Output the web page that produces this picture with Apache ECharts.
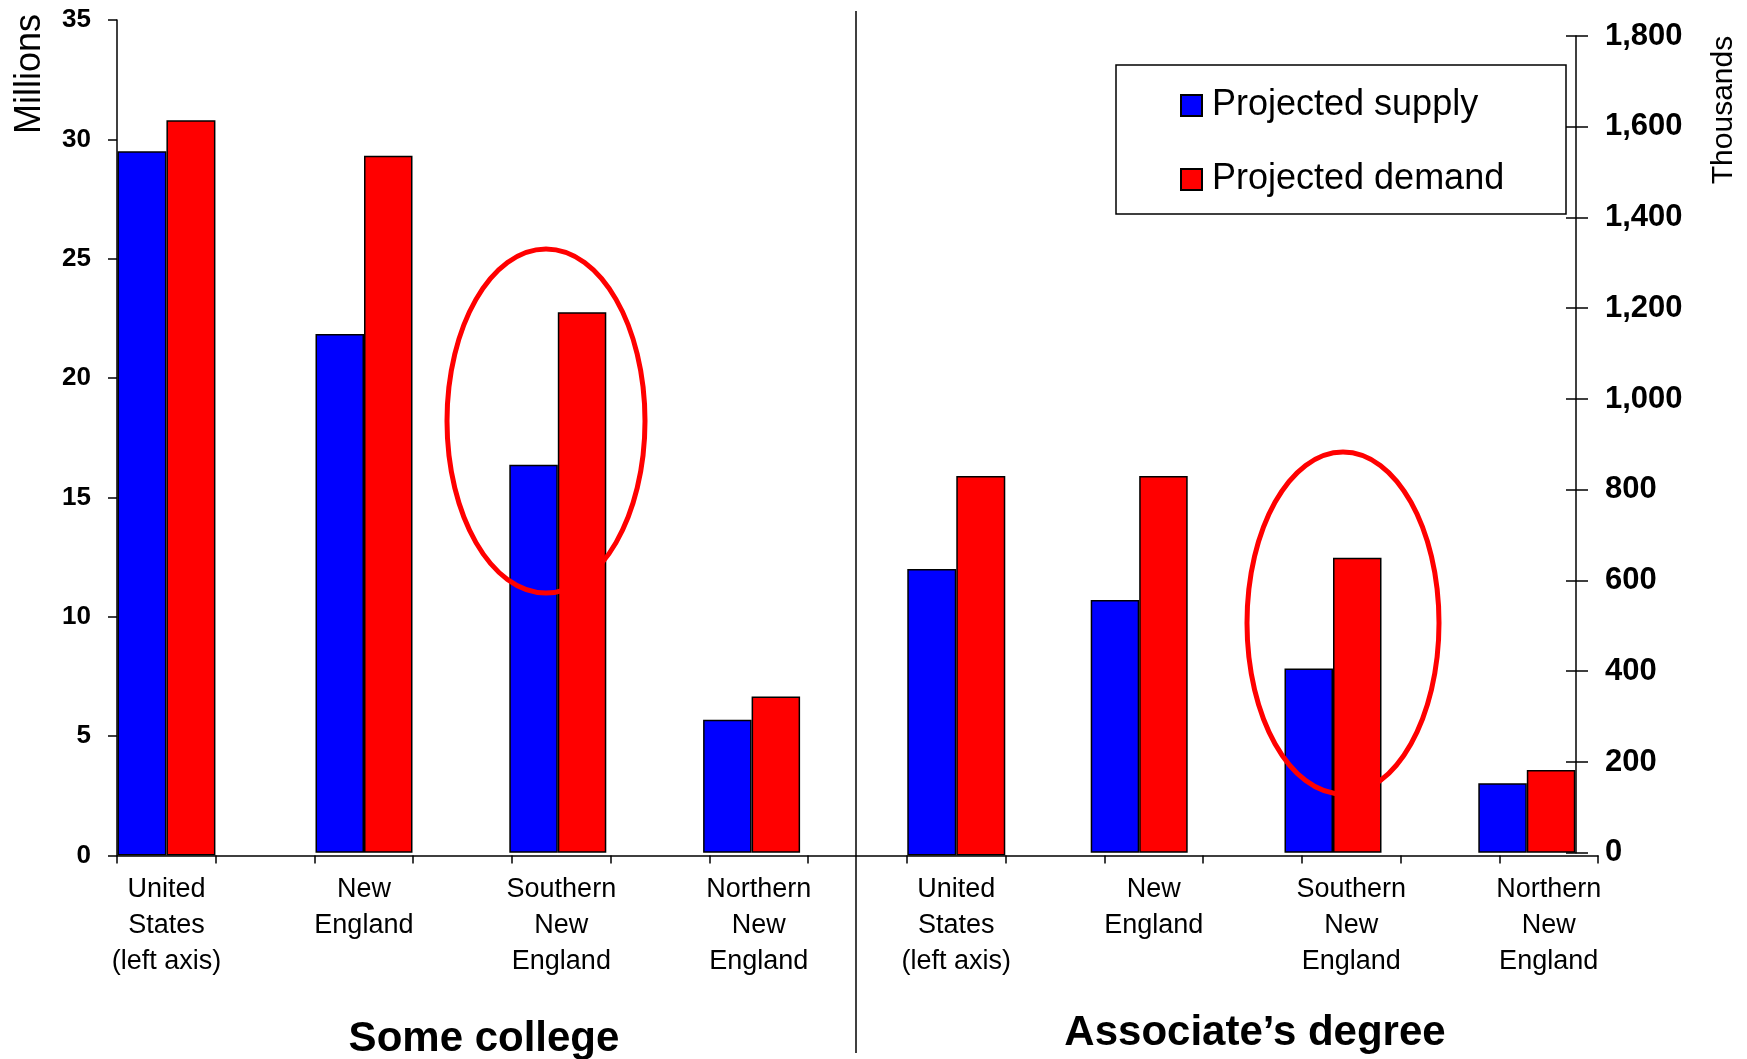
<!DOCTYPE html>
<html><head><meta charset="utf-8">
<script src="https://cdn.jsdelivr.net/npm/echarts@6/dist/echarts.min.js"></script>
<style>html,body{margin:0;padding:0;background:#fff}#c{width:1747px;height:1059px}</style>
</head><body><div id="c"></div>
<script>
// ---- data ----
const categories = ['United\nStates\n(left axis)', 'New\nEngland', 'Southern\nNew\nEngland', 'Northern\nNew\nEngland',
                    'United\nStates\n(left axis)', 'New\nEngland', 'Southern\nNew\nEngland', 'Northern\nNew\nEngland'];
const groupTitles = ['Some college', 'Associate\u2019s degree'];
const seriesNames = ['Projected supply', 'Projected demand'];
// left axis (millions) - United States only
const supplyMillions = [29.5, null, null, null, 12.0, null, null, null];
const demandMillions = [30.8, null, null, null, 15.9, null, null, null];
// right axis (thousands) - regions
const supplyThousands = [null, 1143, 855, 293, null, 557, 406, 153];
const demandThousands = [null, 1536, 1191, 344, null, 830, 650, 182];
// axis ticks
const leftAxisTicks = [0, 5, 10, 15, 20, 25, 30, 35];
const rightAxisTicks = [0, 200, 400, 600, 800, 1000, 1200, 1400, 1600, 1800];
const leftAxisName = 'Millions';
const rightAxisName = 'Thousands';

// ---- chart ----
const FONT = '"Liberation Sans", Arial, sans-serif';
const BLUE = '#0000FF', RED = '#FF0000';
const chart = echarts.init(document.getElementById('c'));
const toBar = a => a.map(v => v == null ? '-' : v);
const lMin = leftAxisTicks[0], lMax = leftAxisTicks[leftAxisTicks.length - 1], lInt = leftAxisTicks[1] - leftAxisTicks[0];
const rMin = rightAxisTicks[0], rMax = rightAxisTicks[rightAxisTicks.length - 1], rInt = rightAxisTicks[1] - rightAxisTicks[0];

const barStyle = c => ({ color: c, borderColor: '#000', borderWidth: 1.5 });

const option = {
  animation: false,
  backgroundColor: '#fff',
  grid: [
    { left: 67.7, width: 1579.7, top: 20, height: 835.6 },   // millions bars + category labels
    { left: 73.3, width: 1550.4, top: 36, height: 816.7 },   // thousands bars + right axis
    { left: 117, width: 1481, top: 20, height: 835.6 }       // visible left axis + x axis line
  ],
  xAxis: [
    { gridIndex: 0, type: 'category', data: categories,
      axisLine: { show: false }, axisTick: { show: false }, splitLine: { show: false },
      axisLabel: { interval: 0, margin: 15.5, color: '#000', fontFamily: FONT, fontSize: 27, lineHeight: 36 } },
    { gridIndex: 1, type: 'category', data: categories, show: false },
    { gridIndex: 2, type: 'value', min: 0, max: 15, interval: 1,
      splitLine: { show: false }, axisLabel: { show: false },
      axisLine: { lineStyle: { color: '#000', width: 1.5 } },
      axisTick: { show: true, length: 8, lineStyle: { color: '#000', width: 1.5 } } }
  ],
  yAxis: [
    { gridIndex: 0, type: 'value', min: lMin, max: lMax, show: false },
    { gridIndex: 1, type: 'value', min: rMin, max: rMax, interval: rInt, position: 'right', offset: -47.7,
      splitLine: { show: false },
      axisLine: { show: true, lineStyle: { color: '#000', width: 1.5 } },
      axisTick: { show: true, length: 12, lineStyle: { color: '#000', width: 1.5 } },
      axisLabel: { margin: 29, color: '#000', fontFamily: FONT, fontWeight: 'bold', fontSize: 31,
        formatter: v => v.toLocaleString('en-US') } },
    { gridIndex: 1, type: 'value', min: rMin, max: rMax, interval: rInt, position: 'right', offset: -47.7,
      splitLine: { show: false }, axisLine: { show: false }, axisLabel: { show: false },
      axisTick: { show: true, inside: true, length: 10, lineStyle: { color: '#000', width: 1.5 } } },
    { gridIndex: 2, type: 'value', min: lMin, max: lMax, interval: lInt, position: 'left',
      splitLine: { show: false },
      axisLine: { show: true, lineStyle: { color: '#000', width: 1.5 } },
      axisTick: { show: true, length: 9, lineStyle: { color: '#000', width: 1.5 } },
      axisLabel: { margin: 26, color: '#000', fontFamily: FONT, fontWeight: 'bold', fontSize: 26 } }
  ],
  legend: {
    data: seriesNames, orient: 'vertical', left: 1180, top: 87.5, padding: 0,
    itemWidth: 21, itemHeight: 21, itemGap: 38, icon: 'rect', selectedMode: false,
    textStyle: { fontFamily: FONT, fontSize: 36, lineHeight: 36, color: '#000', padding: [0, 0, 0, 5] }
  },
  series: [
    { name: seriesNames[0], type: 'bar', xAxisIndex: 0, yAxisIndex: 0, data: toBar(supplyMillions),
      barWidth: 49, barGap: '0%', itemStyle: barStyle(BLUE) },
    { name: seriesNames[1], type: 'bar', xAxisIndex: 0, yAxisIndex: 0, data: toBar(demandMillions),
      barWidth: 49, barGap: '0%', itemStyle: barStyle(RED) },
    { name: seriesNames[0], type: 'bar', xAxisIndex: 1, yAxisIndex: 1, data: toBar(supplyThousands),
      barWidth: 48.5, barGap: '0%', itemStyle: barStyle(BLUE) },
    { name: seriesNames[1], type: 'bar', xAxisIndex: 1, yAxisIndex: 1, data: toBar(demandThousands),
      barWidth: 48.5, barGap: '0%', itemStyle: barStyle(RED) }
  ],
  graphic: [
    { type: 'rect', z: 5, shape: { x: 1116, y: 65, width: 450, height: 149 },
      style: { fill: null, stroke: '#000', lineWidth: 1.5 } },
    { type: 'line', z: 5, shape: { x1: 856, y1: 11, x2: 856, y2: 1053 },
      style: { stroke: '#000', lineWidth: 1.5 } },
    { type: 'ellipse', z: 100, shape: { cx: 546, cy: 421, rx: 99, ry: 172 },
      style: { fill: null, stroke: RED, lineWidth: 5 } },
    { type: 'ellipse', z: 100, shape: { cx: 1343, cy: 623, rx: 96, ry: 171 },
      style: { fill: null, stroke: RED, lineWidth: 5 } },
    { type: 'text', z: 5, x: 30, y: 74, rotation: Math.PI / 2,
      style: { text: leftAxisName, fontFamily: FONT, fontSize: 36, fill: '#000', textAlign: 'center', textVerticalAlign: 'middle' } },
    { type: 'text', z: 5, x: 1724, y: 110, rotation: Math.PI / 2,
      style: { text: rightAxisName, fontFamily: FONT, fontSize: 30, fill: '#000', textAlign: 'center', textVerticalAlign: 'middle' } },
    { type: 'text', z: 5, x: 484, y: 1039,
      style: { text: groupTitles[0], fontFamily: FONT, fontWeight: 'bold', fontSize: 42, fill: '#000', textAlign: 'center', textVerticalAlign: 'middle' } },
    { type: 'text', z: 5, x: 1255, y: 1033,
      style: { text: groupTitles[1], fontFamily: FONT, fontWeight: 'bold', fontSize: 42, fill: '#000', textAlign: 'center', textVerticalAlign: 'middle' } }
  ]
};
chart.setOption(option);
</script>
</body></html>
